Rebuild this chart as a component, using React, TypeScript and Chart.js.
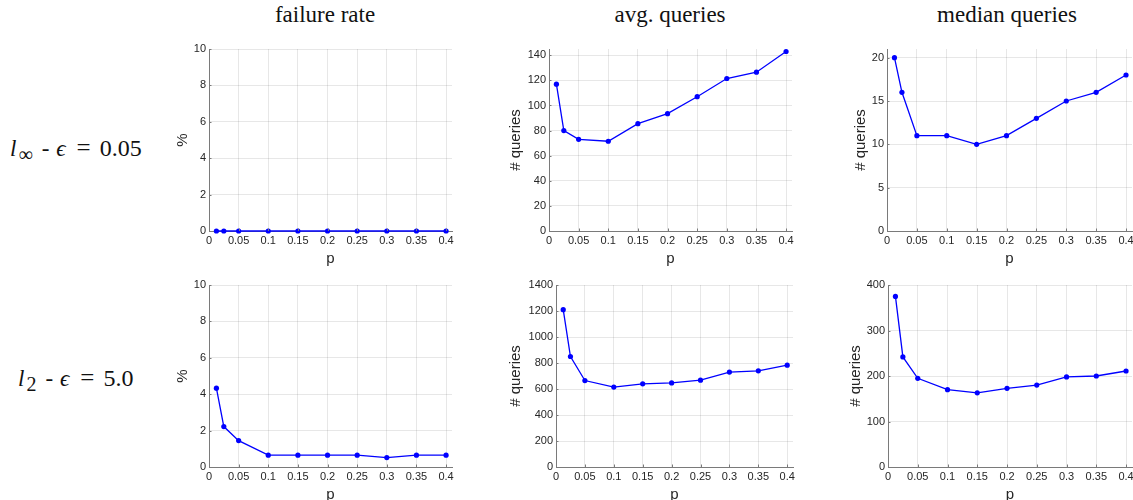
import React, { useEffect, useRef } from "react";
import { Chart, registerables } from "chart.js";
Chart.register(...registerables);

// ---- data ----
const pValues = [0.0125, 0.025, 0.05, 0.1, 0.15, 0.2, 0.25, 0.3, 0.35, 0.4];
const failureLinf = [0, 0, 0, 0, 0, 0, 0, 0, 0, 0];
const avgLinf = [117, 80, 73, 71.5, 85.5, 93.5, 107, 121.5, 126.5, 143];
const medianLinf = [20, 16, 11, 11, 10, 11, 13, 15, 16, 18];
const failureL2 = [4.33, 2.22, 1.45, 0.65, 0.65, 0.65, 0.65, 0.52, 0.65, 0.65];
const avgL2 = [1210, 850, 665, 615, 640, 647, 668, 730, 740, 783];
const medianL2 = [375, 242, 195, 170, 163, 173, 180, 198, 200, 211];

const columnTitles = ["failure rate", "avg. queries", "median queries"];
const rowNormSubs = ["∞", "2"];
const rowEpsilons = ["0.05", "5.0"];
const yTitles = ["%", "# queries", "# queries"];
const xTitle = "p";
const xMax = 0.41;
const xStep = 0.05;

// ---- styles ----
const LINE_BLUE = "#0000ff";
const TEXT_COLOR = "#262626";
const AXIS_COLOR = "#7a7a7a";
const GRID_COLOR = "rgba(38,38,38,0.11)";
const SANS = "'Liberation Sans', Arial, Helvetica, sans-serif";
const SERIF = "'Liberation Serif', 'Times New Roman', serif";

const Y_AXIS_W = 50;
const X_AXIS_H = 38;
const PAD_TOP = 10;
const PAD_RIGHT = 12;

const innerTicks = {
  id: "innerTicks",
  afterDatasetsDraw(chart: any) {
    const { ctx, chartArea, scales } = chart;
    const xs = scales.x;
    const ys = scales.y;
    ctx.save();
    ctx.strokeStyle = AXIS_COLOR;
    ctx.lineWidth = 1;
    xs.ticks.forEach((t: any) => {
      const px = Math.round(xs.getPixelForValue(t.value)) + 0.5;
      ctx.beginPath();
      ctx.moveTo(px, chartArea.bottom);
      ctx.lineTo(px, chartArea.bottom - 2.5);
      ctx.stroke();
    });
    ys.ticks.forEach((t: any) => {
      const py = Math.round(ys.getPixelForValue(t.value)) + 0.5;
      ctx.beginPath();
      ctx.moveTo(chartArea.left, py);
      ctx.lineTo(chartArea.left + 2.5, py);
      ctx.stroke();
    });
    ctx.restore();
  },
};

type PanelProps = {
  values: number[];
  yMax: number;
  yStep: number;
  yTitle: string;
  L: number;
  T: number;
  R: number;
  B: number;
  yTitleX: number;
};

function fmt(v: number) {
  return String(Math.round(v * 1000) / 1000);
}

function Panel({ values, yMax, yStep, yTitle, L, T, R, B, yTitleX }: PanelProps) {
  const ref = useRef<HTMLCanvasElement | null>(null);
  const left = L - Y_AXIS_W;
  const top = T - PAD_TOP;
  const width = Math.round(R - L + Y_AXIS_W + PAD_RIGHT);
  const height = Math.round(B - T + PAD_TOP + X_AXIS_H);
  const yTitlePadTop = yTitleX - left - 9;

  useEffect(() => {
    if (!ref.current) return;
    const chart = new Chart(ref.current, {
      type: "line",
      data: {
        datasets: [
          {
            data: pValues.map((p, i) => ({ x: p, y: values[i] })),
            borderColor: LINE_BLUE,
            backgroundColor: LINE_BLUE,
            borderWidth: 1.3,
            pointRadius: 2.6,
            pointBorderWidth: 0,
            pointBackgroundColor: LINE_BLUE,
            tension: 0,
            clip: false,
          },
        ],
      },
      options: {
        responsive: false,
        animation: false,
        events: [],
        layout: { padding: { left: 0, top: PAD_TOP, right: PAD_RIGHT, bottom: 0 } },
        plugins: { legend: { display: false }, tooltip: { enabled: false }, title: { display: false } },
        scales: {
          x: {
            type: "linear",
            min: 0,
            max: xMax,
            afterFit: (s: any) => {
              s.height = X_AXIS_H;
            },
            ticks: {
              stepSize: xStep,
              includeBounds: false,
              color: TEXT_COLOR,
              font: { family: SANS, size: 11 },
              padding: 3,
              maxRotation: 0,
              autoSkip: false,
              callback: (v: any) => fmt(Number(v)),
            },
            grid: { color: GRID_COLOR, drawTicks: false },
            border: { display: true, color: AXIS_COLOR, width: 1 },
            title: {
              display: true,
              text: xTitle,
              color: TEXT_COLOR,
              font: { family: SANS, size: 15 },
              padding: { top: 0, bottom: 1.5 },
            },
          },
          y: {
            type: "linear",
            min: 0,
            max: yMax,
            afterFit: (s: any) => {
              s.width = Y_AXIS_W;
            },
            ticks: {
              stepSize: yStep,
              includeBounds: false,
              color: TEXT_COLOR,
              font: { family: SANS, size: 11 },
              padding: 3,
              autoSkip: false,
              callback: (v: any) => fmt(Number(v)),
            },
            grid: { color: GRID_COLOR, drawTicks: false },
            border: { display: true, color: AXIS_COLOR, width: 1 },
            title: {
              display: true,
              text: yTitle,
              color: TEXT_COLOR,
              font: { family: SANS, size: 15 },
              padding: { top: yTitlePadTop, bottom: 0 },
            },
          },
        },
      },
      plugins: [innerTicks],
    } as any);
    return () => chart.destroy();
  }, []);

  return (
    <canvas
      ref={ref}
      width={width}
      height={height}
      style={{ position: "absolute", left, top, width, height }}
    />
  );
}

const panels: PanelProps[] = [
  { values: failureLinf, yMax: 10, yStep: 2, yTitle: yTitles[0], L: 209, T: 49, R: 451.5, B: 231, yTitleX: 183 },
  { values: avgLinf, yMax: 145, yStep: 20, yTitle: yTitles[1], L: 549.3, T: 49, R: 792.7, B: 231, yTitleX: 516 },
  { values: medianLinf, yMax: 21, yStep: 5, yTitle: yTitles[2], L: 886.7, T: 49, R: 1131.7, B: 231, yTitleX: 861 },
  { values: failureL2, yMax: 10, yStep: 2, yTitle: yTitles[0], L: 209, T: 285, R: 451.5, B: 467, yTitleX: 183 },
  { values: avgL2, yMax: 1400, yStep: 200, yTitle: yTitles[1], L: 555.7, T: 285, R: 792.7, B: 467, yTitleX: 516 },
  { values: medianL2, yMax: 400, yStep: 100, yTitle: yTitles[2], L: 887.7, T: 285, R: 1131.7, B: 467, yTitleX: 856 },
];

const titleCenters = [325, 670, 1007];

function RowLabel({ sub, eps, left, top }: { sub: string; eps: string; left: number; top: number }) {
  return (
    <div
      style={{
        position: "absolute",
        left,
        top,
        fontFamily: SERIF,
        fontSize: 23,
        lineHeight: "26px",
        color: "#111",
        whiteSpace: "nowrap",
        display: "flex",
        alignItems: "baseline",
      }}
    >
      <i>l</i>
      <span style={{ fontSize: 20, lineHeight: "10px", position: "relative", top: 5, marginLeft: 2 }}>{sub}</span>
      <span style={{ marginLeft: 9 }}>-</span>
      <i style={{ marginLeft: 7 }}>ϵ</i>
      <span style={{ marginLeft: 11, fontSize: 25 }}>=</span>
      <span style={{ marginLeft: 9, fontSize: 24 }}>{eps}</span>
    </div>
  );
}

export default function App() {
  return (
    <div
      style={{
        position: "absolute",
        left: 0,
        top: 0,
        width: 1133,
        height: 500,
        overflow: "hidden",
        background: "#ffffff",
      }}
    >
      {columnTitles.map((t, i) => (
        <div
          key={t}
          style={{
            position: "absolute",
            left: titleCenters[i] - 150,
            width: 300,
            top: 2,
            textAlign: "center",
            fontFamily: SERIF,
            fontSize: 23,
            lineHeight: "26px",
            color: "#111",
            whiteSpace: "nowrap",
          }}
        >
          {t}
        </div>
      ))}
      <RowLabel sub={rowNormSubs[0]} eps={rowEpsilons[0]} left={10} top={135} />
      <RowLabel sub={rowNormSubs[1]} eps={rowEpsilons[1]} left={18} top={365} />
      {panels.map((p, i) => (
        <Panel key={i} {...p} />
      ))}
    </div>
  );
}
